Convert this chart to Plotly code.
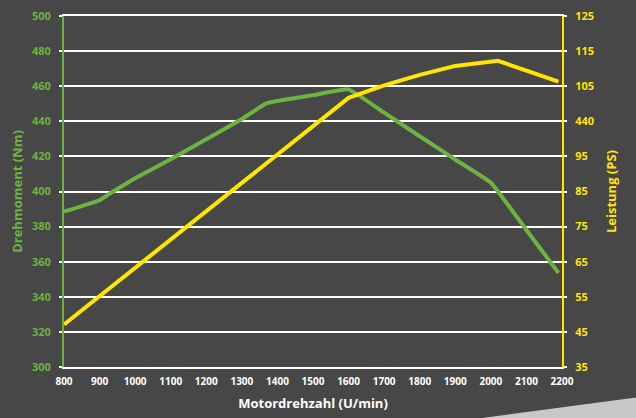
import plotly.graph_objects as go

# --- data ---
rpm_torque = [800, 900, 930, 1000, 1100, 1200, 1300, 1370, 1500, 1600, 1700, 1800, 1900, 2000, 2100, 2190]
torque_nm = [388.5, 395, 399, 407.5, 418.4, 429.8, 441.3, 450.3, 454.9, 458.2, 444.9, 431.5, 418.2, 405, 378.1, 353.6]

rpm_power = [800, 900, 1000, 1100, 1200, 1300, 1400, 1500, 1600, 1700, 1800, 1900, 2000, 2020, 2100, 2190]
power_ps = [45.9, 53.2, 60.4, 67.7, 75.0, 82.3, 89.5, 96.8, 104.0, 107.2, 109.9, 112.2, 113.3, 113.5, 111.0, 108.2]

x_ticks = list(range(800, 2201, 100))
left_ticks = list(range(300, 501, 20))
right_tickvals = [35, 44, 53, 62, 71, 80, 89, 98, 107, 116, 125]
right_ticktext = ["35", "45", "55", "65", "75", "85", "95", "440", "105", "115", "125"]

GREEN = "#6db33f"
YELLOW = "#ffe500"
BG = "#474747"
FONT = "Open Sans"

fig = go.Figure()
fig.add_trace(go.Scatter(x=rpm_torque, y=torque_nm, mode="lines",
                         line=dict(color=GREEN, width=4, shape="spline", smoothing=0.3),
                         yaxis="y", showlegend=False, hoverinfo="skip"))
fig.add_trace(go.Scatter(x=rpm_power, y=power_ps, mode="lines",
                         line=dict(color=YELLOW, width=4), yaxis="y2", showlegend=False,
                         hoverinfo="skip"))

fig.update_layout(
    width=636, height=418,
    paper_bgcolor=BG, plot_bgcolor=BG,
    margin=dict(l=64, r=74, t=16, b=51, autoexpand=False),
    font=dict(family=FONT),
    xaxis=dict(
        range=[800, 2200], tickvals=x_ticks, ticktext=[str(v) for v in x_ticks],
        showgrid=False, zeroline=False, automargin=False,
        showline=True, linecolor="white", linewidth=2, mirror=True,
        ticks="", ticklabelstandoff=4,
        tickfont=dict(color="white", size=10, weight="bold"),
        title=dict(text="Motordrehzahl (U/min)", font=dict(color="white", size=13, weight="bold"), standoff=12),
    ),
    yaxis=dict(
        range=[300, 500], tickvals=left_ticks, automargin=False,
        showgrid=True, gridcolor="white", gridwidth=2, zeroline=False,
        showline=True, linecolor=GREEN, linewidth=2,
        ticks="outside", tickcolor="white", ticklen=3, tickwidth=2, ticklabelstandoff=6,
        tickfont=dict(color=GREEN, size=11, weight="bold"),
        title=dict(text="Drehmoment (Nm)", font=dict(color=GREEN, size=13, weight="bold"), standoff=6),
    ),
    yaxis2=dict(
        range=[35, 125], tickvals=right_tickvals, ticktext=right_ticktext, automargin=False,
        overlaying="y", side="right", showgrid=False, zeroline=False,
        showline=True, linecolor=YELLOW, linewidth=2,
        ticks="outside", tickcolor="white", ticklen=3, tickwidth=2, ticklabelstandoff=6,
        tickfont=dict(color=YELLOW, size=11, weight="bold"),
        title=dict(text="Leistung (PS)", font=dict(color=YELLOW, size=13, weight="bold"), standoff=14),
    ),
    shapes=[dict(type="path", xref="paper", yref="paper", layer="below",
                 path="M 0.84 -0.1453 L 1.1486 -0.087 L 1.1486 -0.1453 Z",
                 fillcolor="#c8c8c8", line=dict(width=0))],
)

fig.write_html("out.html", config={"displayModeBar": False},
               post_script="document.body.style.margin='0';document.body.style.background='#474747';")
